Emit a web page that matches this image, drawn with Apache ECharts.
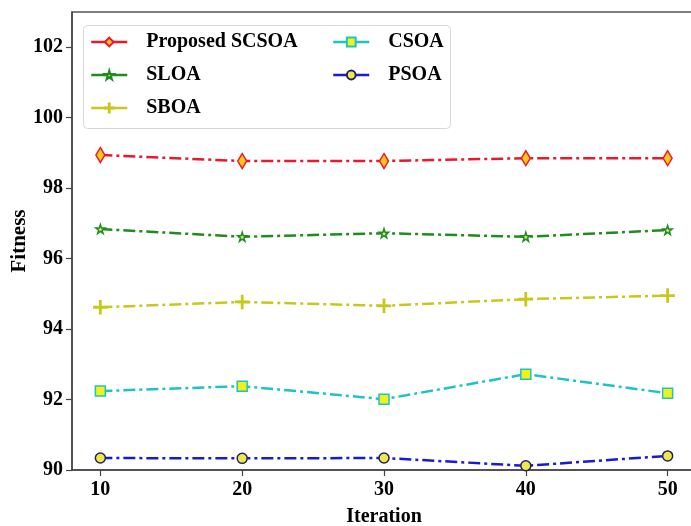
<!DOCTYPE html>
<html>
<head>
<meta charset="utf-8">
<script src="https://cdn.jsdelivr.net/npm/echarts@6/dist/echarts.min.js"></script>
<style>html,body{margin:0;padding:0;background:#fff}#c{width:691px;height:526px}</style>
</head>
<body>
<div id="c"></div>
<script>
const iterations = [10, 20, 30, 40, 50];
const xTicks = [10, 20, 30, 40, 50];
const yTicks = [90, 92, 94, 96, 98, 100, 102];
const scsoa = [98.94, 98.77, 98.77, 98.85, 98.85];
const sloa = [96.84, 96.62, 96.72, 96.62, 96.81];
const sboa = [94.62, 94.77, 94.66, 94.85, 94.95];
const csoa = [92.24, 92.38, 92.01, 92.72, 92.18];
const psoa = [90.34, 90.33, 90.34, 90.12, 90.40];

const font = '"Liberation Serif", "Times New Roman", serif';
const star = 'path://M50,0 L61,35 L98,35 L68,57 L79,91 L50,70 L21,91 L32,57 L2,35 L39,35 Z';
const plus = 'path://M45,0 h10 v45 h45 v10 h-45 v45 h-10 v-45 h-45 v-10 h45 Z';
const dashDot = [12, 4, 3, 4];

function pairs(v) { return iterations.map((x, i) => [x, v[i]]); }

function mk(name, data, color, symbol, size, fill, border) {
  return {
    name: name, type: 'line', data: pairs(data),
    symbol: symbol, symbolSize: size, showSymbol: true,
    lineStyle: { color: color, width: 2.5, type: dashDot },
    itemStyle: { color: fill, borderColor: border, borderWidth: 1.5 },
    emphasis: { disabled: true }, animation: false, z: 3
  };
}

const legendText = { fontFamily: font, fontWeight: 'bold', fontSize: 20, color: '#000', padding: [0, 0, 0, 14] };

const chart = echarts.init(document.getElementById('c'), null, { renderer: 'canvas' });
chart.setOption({
  animation: false,
  backgroundColor: '#fff',
  grid: { left: 72, top: 12, width: 624, height: 458, show: true, borderColor: '#555', borderWidth: 1.5, backgroundColor: 'transparent', containLabel: false, outerBoundsMode: 'none' },
  xAxis: {
    type: 'value', min: 8, max: 52,
    name: 'Iteration', nameLocation: 'middle', nameGap: 37, nameMoveOverlap: false,
    nameTextStyle: { fontFamily: font, fontWeight: 'bold', fontSize: 20, color: '#000' },
    axisLine: { show: true, lineStyle: { color: '#444', width: 1.5 } },
    axisTick: { show: true, length: 6, inside: false, customValues: xTicks, lineStyle: { color: '#444', width: 1.2 } },
    axisLabel: { customValues: xTicks, fontFamily: font, fontWeight: 'bold', fontSize: 20, color: '#000', margin: 10 },
    splitLine: { show: false }
  },
  yAxis: {
    type: 'value', min: 90, max: 103,
    name: 'Fitness', nameLocation: 'middle', nameGap: 42, nameRotate: 90, nameMoveOverlap: false,
    nameTextStyle: { fontFamily: font, fontWeight: 'bold', fontSize: 21, color: '#000' },
    axisLine: { show: true, lineStyle: { color: '#444', width: 1.5 } },
    axisTick: { show: true, length: 6, inside: false, customValues: yTicks, lineStyle: { color: '#444', width: 1.2 } },
    axisLabel: { customValues: yTicks, fontFamily: font, fontWeight: 'bold', fontSize: 20, color: '#000', margin: 9 },
    splitLine: { show: false }
  },
  graphic: [{
    type: 'rect', left: 83, top: 25, z: 1,
    shape: { width: 367, height: 103, r: 4 },
    style: { fill: 'rgba(255,255,255,0.85)', stroke: '#d8d8d8', lineWidth: 1 }
  }],
  legend: [
    {
      data: ['Proposed SCSOA', 'SLOA', 'SBOA'], orient: 'vertical', left: 85, top: 27,
      itemWidth: 36, itemHeight: 11, itemGap: 13, z: 5,
      lineStyle: { type: 'solid', width: 2.5 },
      textStyle: legendText
    },
    {
      data: ['CSOA', 'PSOA'], orient: 'vertical', left: 327, top: 27,
      itemWidth: 36, itemHeight: 11, itemGap: 13, z: 5,
      lineStyle: { type: 'solid', width: 2.5 },
      textStyle: legendText
    }
  ],
  series: [
    mk('Proposed SCSOA', scsoa, '#e8192c', 'diamond', [9, 15], '#ffc61a', '#e8192c'),
    mk('SLOA', sloa, '#1e8c1e', star, 9, '#e6f07a', '#1e8c1e'),
    mk('SBOA', sboa, '#c8c81a', plus, 13, '#c8c81a', '#c8c81a'),
    mk('CSOA', csoa, '#1ec3c3', 'rect', 10, '#f0f01a', '#1ec3c3'),
    mk('PSOA', psoa, '#1a1ad2', 'circle', 10, '#f0e84a', '#222266')
  ]
});
</script>
</body>
</html>
